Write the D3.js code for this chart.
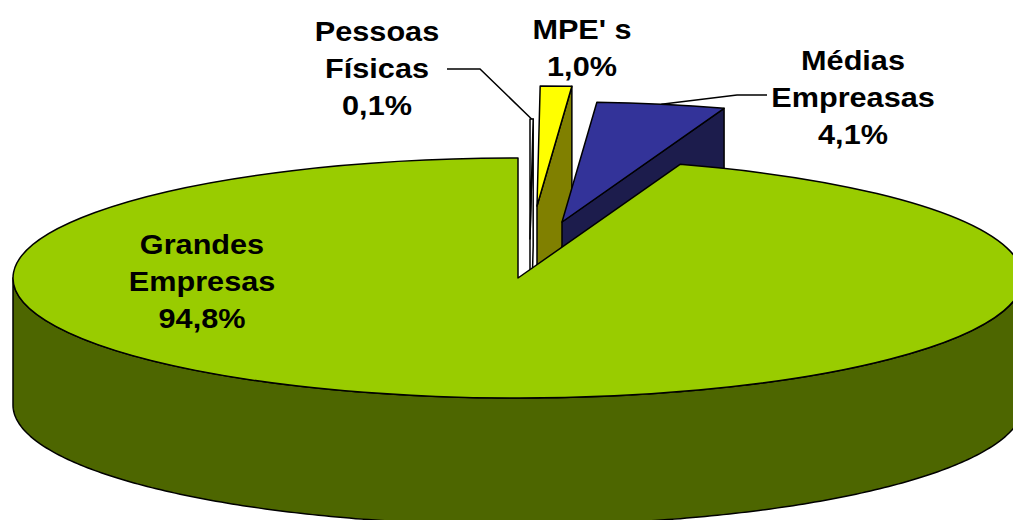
<!DOCTYPE html>
<html>
<head>
<meta charset="utf-8">
<script src="https://cdn.jsdelivr.net/npm/d3@7"></script>
<style>
  body { margin: 0; background: #fff; }
  .label { font-family: "Liberation Sans", Arial, sans-serif; font-weight: bold; font-size: 27px; fill: #000; }
</style>
</head>
<body>
<div id="chart"></div>
<script>
// data
var categories = ["Pessoas\nFísicas", "MPE' s", "Médias\nEmpreasas", "Grandes\nEmpresas"];
var shares = [0.1, 1.0, 4.1, 94.8];

// styles
var topColors = ["#ffffff", "#ffff00", "#333399", "#99cc00"];
var sideColors = ["#ffffff", "#808000", "#1c1c4c", "#4d6600"];
// explosion of each slice on screen (px)
var explode = [[12, -39], [19, -72], [44, -56], [0, 0]];
// label centre x and first baseline
var labelPos = [[377, 41], [582, 39], [853, 70], [202, 254]];
// leader lines: elbow x, y, end x
var leaders = [[480, 69, 447], null, [737, 95, 767], null];

var width = 1013, height = 520;
var cx = 518, cy = 278, rx = 505, ry = 120, depth = 127;

var svg = d3.select('#chart')
  .append('svg')
    .attr('width', width)
    .attr('height', height);

var pie = d3.pie().sort(null).value(function(d) { return d; });
var slices = pie(shares).map(function(d, i) {
  d.i = i;
  d.ox = explode[i][0];
  d.oy = explode[i][1];
  return d;
});

function pt(a, s, z) {
  return [cx + s.ox + rx * Math.sin(a), cy + s.oy - ry * Math.cos(a) + (z || 0)];
}

var line = d3.line();

function outerWall(s) {
  var a0 = Math.max(s.startAngle, Math.PI / 2),
      a1 = Math.min(s.endAngle, 3 * Math.PI / 2);
  if (a1 <= a0) return null;
  var n = 240, top = [], bot = [];
  for (var k = 0; k <= n; k++) {
    var a = a0 + (a1 - a0) * k / n;
    top.push(pt(a, s, 0));
    bot.push(pt(a, s, depth));
  }
  return line(top.concat(bot.reverse())) + 'Z';
}

function cutWall(s, a) {
  var c0 = [cx + s.ox, cy + s.oy],
      c1 = [cx + s.ox, cy + s.oy + depth];
  return line([c0, pt(a, s, 0), pt(a, s, depth), c1]) + 'Z';
}

var arc = d3.arc().innerRadius(0).outerRadius(rx);

// back slices first
var order = slices.slice().sort(function(a, b) { return a.oy - b.oy; });

order.forEach(function(s) {
  var g = svg.append('g').attr('class', 'slice');

  var ow = outerWall(s);
  if (ow) {
    g.append('path')
      .attr('d', ow)
      .attr('fill', sideColors[s.i])
      .attr('stroke', '#000')
      .attr('stroke-width', 1.5)
      .attr('stroke-linejoin', 'round');
  }
  if (s.startAngle > Math.PI && s.startAngle < 2 * Math.PI) {
    g.append('path')
      .attr('d', cutWall(s, s.startAngle))
      .attr('fill', sideColors[s.i])
      .attr('stroke', '#000')
      .attr('stroke-width', 1.5)
      .attr('stroke-linejoin', 'round');
  }
  if (s.endAngle > 0 && s.endAngle < Math.PI) {
    g.append('path')
      .attr('d', cutWall(s, s.endAngle))
      .attr('fill', sideColors[s.i])
      .attr('stroke', '#000')
      .attr('stroke-width', 1.5)
      .attr('stroke-linejoin', 'round');
  }

  g.append('path')
    .attr('d', arc(s))
    .attr('transform', 'translate(' + (cx + s.ox) + ',' + (cy + s.oy) + ') scale(1,' + (ry / rx) + ')')
    .attr('vector-effect', 'non-scaling-stroke')
    .attr('fill', topColors[s.i])
    .attr('stroke', '#000')
    .attr('stroke-width', 1.5)
    .attr('stroke-linejoin', 'round');
});

///////////////////// leader lines //////////////////////////////
slices.forEach(function(s) {
  var l = leaders[s.i];
  if (!l) return;
  var mid = (s.startAngle + s.endAngle) / 2;
  svg.append('path')
    .attr('d', line([pt(mid, s, 0), [l[0], l[1]], [l[2], l[1]]]))
    .attr('fill', 'none')
    .attr('stroke', '#000')
    .attr('stroke-width', 1.5);
});

///////////////////// labels //////////////////////////////
var fmt = d3.formatLocale({ decimal: ",", thousands: ".", grouping: [3], currency: ["R$", ""] }).format(".1f");

slices.forEach(function(s) {
  var lines = categories[s.i].split("\n").concat(fmt(shares[s.i]) + "%");
  lines.forEach(function(t, k) {
    svg.append('text')
      .attr('class', 'label')
      .attr('text-anchor', 'middle')
      .attr('transform', 'translate(' + labelPos[s.i][0] + ',' + (labelPos[s.i][1] + k * 37) + ') scale(1.135,1)')
      .text(t);
  });
});
</script>
</body>
</html>
